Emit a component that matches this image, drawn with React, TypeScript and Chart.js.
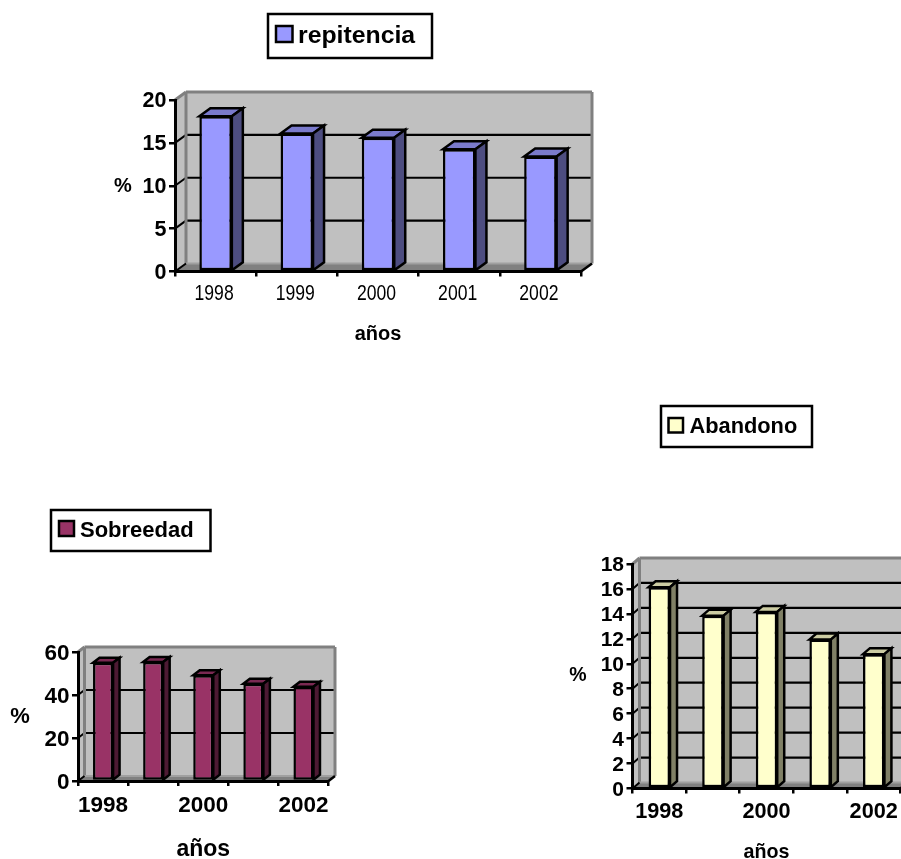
import React, { useEffect, useRef } from "react";
import { Chart, registerables } from "chart.js";

Chart.register(...registerables);

const years = ["1998", "1999", "2000", "2001", "2002"];
const repitencia = [18.1, 16.1, 15.6, 14.25, 13.4];
const sobreedad = [55, 55.3, 49.2, 45.2, 43.8];
const abandono = [16.14, 13.86, 14.16, 11.94, 10.77];

const FONT = '"Liberation Sans", Arial, sans-serif';

type Spec = {
  label: string; values: number[]; max: number; step: number;
  fill: string; top: string; side: string;
  box: [number, number, number, number]; // canvas left, top, width, height
  area: [number, number, number, number]; // page left, top, right, bottom of front plane
  dx: number; dy: number;
  legend: { x0: number; y0: number; x1: number; y1: number; sx0: number; sy0: number; sx1: number; sy1: number; tx: number; size: number };
  pct: { x: number; y: number; size: number };
  title: { y: number; size: number };
  yFont: number; xFontSize: number; xPad: number; skip: boolean;
  narrow?: { y: number; size: number; stretch: number; shift: number };
};

const specs: Spec[] = [
  {
    label: "repitencia", values: repitencia, max: 20, step: 5,
    fill: "#9999FF", top: "#7A7ACC", side: "#4D4D80",
    box: [100, 0, 510, 350], area: [175, 100, 581, 271.5], dx: 11, dy: 8,
    legend: { x0: 268, y0: 14, x1: 432, y1: 58, sx0: 276, sy0: 26, sx1: 292.5, sy1: 42, tx: 298, size: 24.8 },
    pct: { x: 123, y: 186, size: 20 }, title: { y: 334, size: 20 },
    yFont: 21.5, xFontSize: 21, xPad: 6, skip: false,
    narrow: { y: 294, size: 22, stretch: 0.8, shift: -1.5 },
  },
  {
    label: "Sobreedad", values: sobreedad, max: 60, step: 20,
    fill: "#993366", top: "#7A2952", side: "#4D1A33",
    box: [0, 500, 345, 359], area: [78, 652, 328.5, 781], dx: 6.5, dy: 5,
    legend: { x0: 51, y0: 510, x1: 210.5, y1: 551, sx0: 59, sy0: 521, sx1: 74, sy1: 536, tx: 80, size: 22 },
    pct: { x: 20, y: 717, size: 22 }, title: { y: 850, size: 23 },
    yFont: 22.5, xFontSize: 22.5, xPad: 6, skip: true,
  },
  {
    label: "Abandono", values: abandono, max: 18, step: 2,
    fill: "#FFFFCC", top: "#CCCCA3", side: "#808066",
    box: [560, 400, 365, 459], area: [632.5, 564, 900.5, 788.5], dx: 7, dy: 6,
    legend: { x0: 661, y0: 406, x1: 812, y1: 447, sx0: 668.5, sy0: 418, sx1: 683, sy1: 432.5, tx: 689.5, size: 21.8 },
    pct: { x: 578, y: 676, size: 19.5 }, title: { y: 853, size: 19.7 },
    yFont: 21, xFontSize: 21.7, xPad: 6, skip: true,
  },
];

const GRAY = "#808080";
const WALL = "#C0C0C0";

function poly(ctx: CanvasRenderingContext2D, pts: number[][], fill?: string, stroke?: string, lw = 2) {
  ctx.beginPath();
  pts.forEach(([x, y], i) => (i ? ctx.lineTo(x, y) : ctx.moveTo(x, y)));
  ctx.closePath();
  if (fill) { ctx.fillStyle = fill; ctx.fill(); }
  if (stroke) { ctx.strokeStyle = stroke; ctx.lineWidth = lw; ctx.lineJoin = "miter"; ctx.stroke(); }
}

function line(ctx: CanvasRenderingContext2D, x0: number, y0: number, x1: number, y1: number, color: string, lw = 2) {
  ctx.beginPath(); ctx.moveTo(x0, y0); ctx.lineTo(x1, y1);
  ctx.strokeStyle = color; ctx.lineWidth = lw; ctx.stroke();
}

function makePlugin(s: Spec) {
  const [ox, oy] = s.box;
  return {
    id: "excel3d",
    beforeDraw(chart: any) {
      const ctx: CanvasRenderingContext2D = chart.ctx;
      const { left, right, top, bottom } = chart.chartArea;
      const yS = chart.scales.y;
      const { dx, dy } = s;
      ctx.save();
      // back wall and left wall
      poly(ctx, [[left + dx, top - dy], [right + dx, top - dy], [right + dx, bottom - dy], [left + dx, bottom - dy]], WALL);
      poly(ctx, [[left, top], [left + dx, top - dy], [left + dx, bottom - dy], [left, bottom]], WALL);
      // floor
      poly(ctx, [[left, bottom], [left + dx, bottom - dy], [right + dx, bottom - dy], [right, bottom]], GRAY);
      // gridlines on both walls
      for (let v = s.step; v < s.max; v += s.step) {
        const y = yS.getPixelForValue(v);
        line(ctx, left + dx, y - dy, right + dx, y - dy, "#000", 2.2);
        line(ctx, left, y, left + dx, y - dy, "#000", 2);
      }
      // wall frames
      ctx.lineCap = "butt";
      line(ctx, left + dx, top - dy, right + dx, top - dy, GRAY, 3);
      line(ctx, right + dx, top - dy, right + dx, bottom - dy, GRAY, 3);
      line(ctx, left + dx, top - dy, left + dx, bottom - dy, GRAY, 3);
      line(ctx, left, top, left + dx, top - dy, GRAY, 3);
      line(ctx, left + dx, bottom - dy, right + dx, bottom - dy, "#A0A0A0", 2);
      line(ctx, left, bottom, left + dx, bottom - dy, "#000", 2);
      line(ctx, right, bottom, right + dx, bottom - dy, "#000", 2.5);
      ctx.restore();
    },
    beforeDatasetsDraw(chart: any) {
      const ctx: CanvasRenderingContext2D = chart.ctx;
      const { dx, dy } = s;
      ctx.save();
      chart.getDatasetMeta(0).data.forEach((bar: any) => {
        const { x, y, base, width } = bar.getProps(["x", "y", "base", "width"], true);
        const l = x - width / 2, r = x + width / 2;
        poly(ctx, [[l, y], [l + dx, y - dy], [r + dx, y - dy], [r, y]], s.top, "#000", 2.5);
        poly(ctx, [[r, y], [r + dx, y - dy], [r + dx, base - dy], [r, base]], s.side, "#000", 2.5);
      });
      ctx.restore();
    },
    afterDraw(chart: any) {
      const ctx: CanvasRenderingContext2D = chart.ctx;
      const L = s.legend;
      ctx.save();
      ctx.fillStyle = "#FFF";
      ctx.fillRect(L.x0 - ox, L.y0 - oy, L.x1 - L.x0, L.y1 - L.y0);
      ctx.strokeStyle = "#000"; ctx.lineWidth = 2.5;
      ctx.strokeRect(L.x0 - ox, L.y0 - oy, L.x1 - L.x0, L.y1 - L.y0);
      ctx.fillStyle = s.fill;
      ctx.fillRect(L.sx0 - ox, L.sy0 - oy, L.sx1 - L.sx0, L.sy1 - L.sy0);
      ctx.strokeRect(L.sx0 - ox, L.sy0 - oy, L.sx1 - L.sx0, L.sy1 - L.sy0);
      ctx.fillStyle = "#000";
      ctx.textBaseline = "middle"; ctx.textAlign = "left";
      ctx.font = `bold ${L.size}px ${FONT}`;
      ctx.fillText(chart.data.datasets[0].label, L.tx - ox, (L.y0 + L.y1) / 2 - oy);
      ctx.textAlign = "center";
      ctx.font = `bold ${s.pct.size}px ${FONT}`;
      ctx.fillText("%", s.pct.x - ox, s.pct.y - oy);
      // condensed category labels (no narrow face is installed)
      if (s.narrow) {
        const xS = chart.scales.x;
        ctx.font = `${s.narrow.size}px ${FONT}`;
        xS.ticks.forEach((_t: any, i: number) => {
          ctx.save();
          ctx.translate(xS.getPixelForTick(i) + s.narrow!.shift, s.narrow!.y - oy);
          ctx.scale(s.narrow!.stretch, 1);
          ctx.fillText(xS.getLabelForValue(i), 0, 0);
          ctx.restore();
        });
      }
      ctx.restore();
    },
  };
}

function Panel({ spec }: { spec: Spec }) {
  const ref = useRef<HTMLCanvasElement>(null);
  useEffect(() => {
    const [ox, oy, w, h] = spec.box;
    const [al, at, ar, ab] = spec.area;
    const chart = new Chart(ref.current!, {
      type: "bar",
      data: {
        labels: years,
        datasets: [{
          label: spec.label,
          data: spec.values,
          backgroundColor: spec.fill,
          borderColor: "#000",
          borderWidth: 2.5,
          borderSkipped: false,
          barPercentage: 0.4,
          categoryPercentage: 1,
          clip: false,
        } as any],
      },
      options: {
        animation: false,
        responsive: false,
        devicePixelRatio: 1,
        layout: { autoPadding: false, padding: { left: 0, top: at - oy, right: ox + w - ar, bottom: 0 } },
        plugins: { legend: { display: false }, tooltip: { enabled: false }, title: { display: false } },
        scales: {
          x: {
            afterFit: (sc: any) => { sc.height = oy + h - ab; },
            grid: { drawOnChartArea: false, drawTicks: true, tickLength: 5, color: "#000", lineWidth: 2.5 },
            border: { display: true, color: "#000", width: 3 },
            ticks: {
              display: !spec.narrow,
              autoSkip: false, maxRotation: 0, color: "#000", padding: spec.xPad,
              font: { family: FONT, size: spec.xFontSize, weight: "bold" },
              callback: (_v: any, i: number) => (spec.skip && i % 2 ? "" : years[i]),
            },
            title: {
              display: true, text: "años", color: "#000",
              font: { family: FONT, size: spec.title.size, weight: "bold" },
              padding: { top: 0, bottom: oy + h - spec.title.y - spec.title.size * 0.6 },
            },
          },
          y: {
            min: 0, max: spec.max,
            afterFit: (sc: any) => { sc.width = al - ox; },
            grid: { drawOnChartArea: false, drawTicks: true, tickLength: 6, color: "#000", lineWidth: 2.5 },
            border: { display: true, color: "#000", width: 3 },
            ticks: {
              stepSize: spec.step, autoSkip: false, color: "#000", padding: 2.5, labelOffset: 1.5,
              font: { family: FONT, size: spec.yFont, weight: "bold" },
            },
          },
        },
      } as any,
      plugins: [makePlugin(spec)],
    });
    return () => chart.destroy();
  }, [spec]);
  const [l, t, w, h] = spec.box;
  return <canvas ref={ref} width={w} height={h} style={{ position: "absolute", left: l, top: t, width: w, height: h }} />;
}

export default function App() {
  return (
    <div style={{ position: "absolute", left: 0, top: 0, width: 901, height: 859, overflow: "hidden", background: "#fff" }}>
      {specs.map((s) => <Panel key={s.label} spec={s} />)}
    </div>
  );
}
